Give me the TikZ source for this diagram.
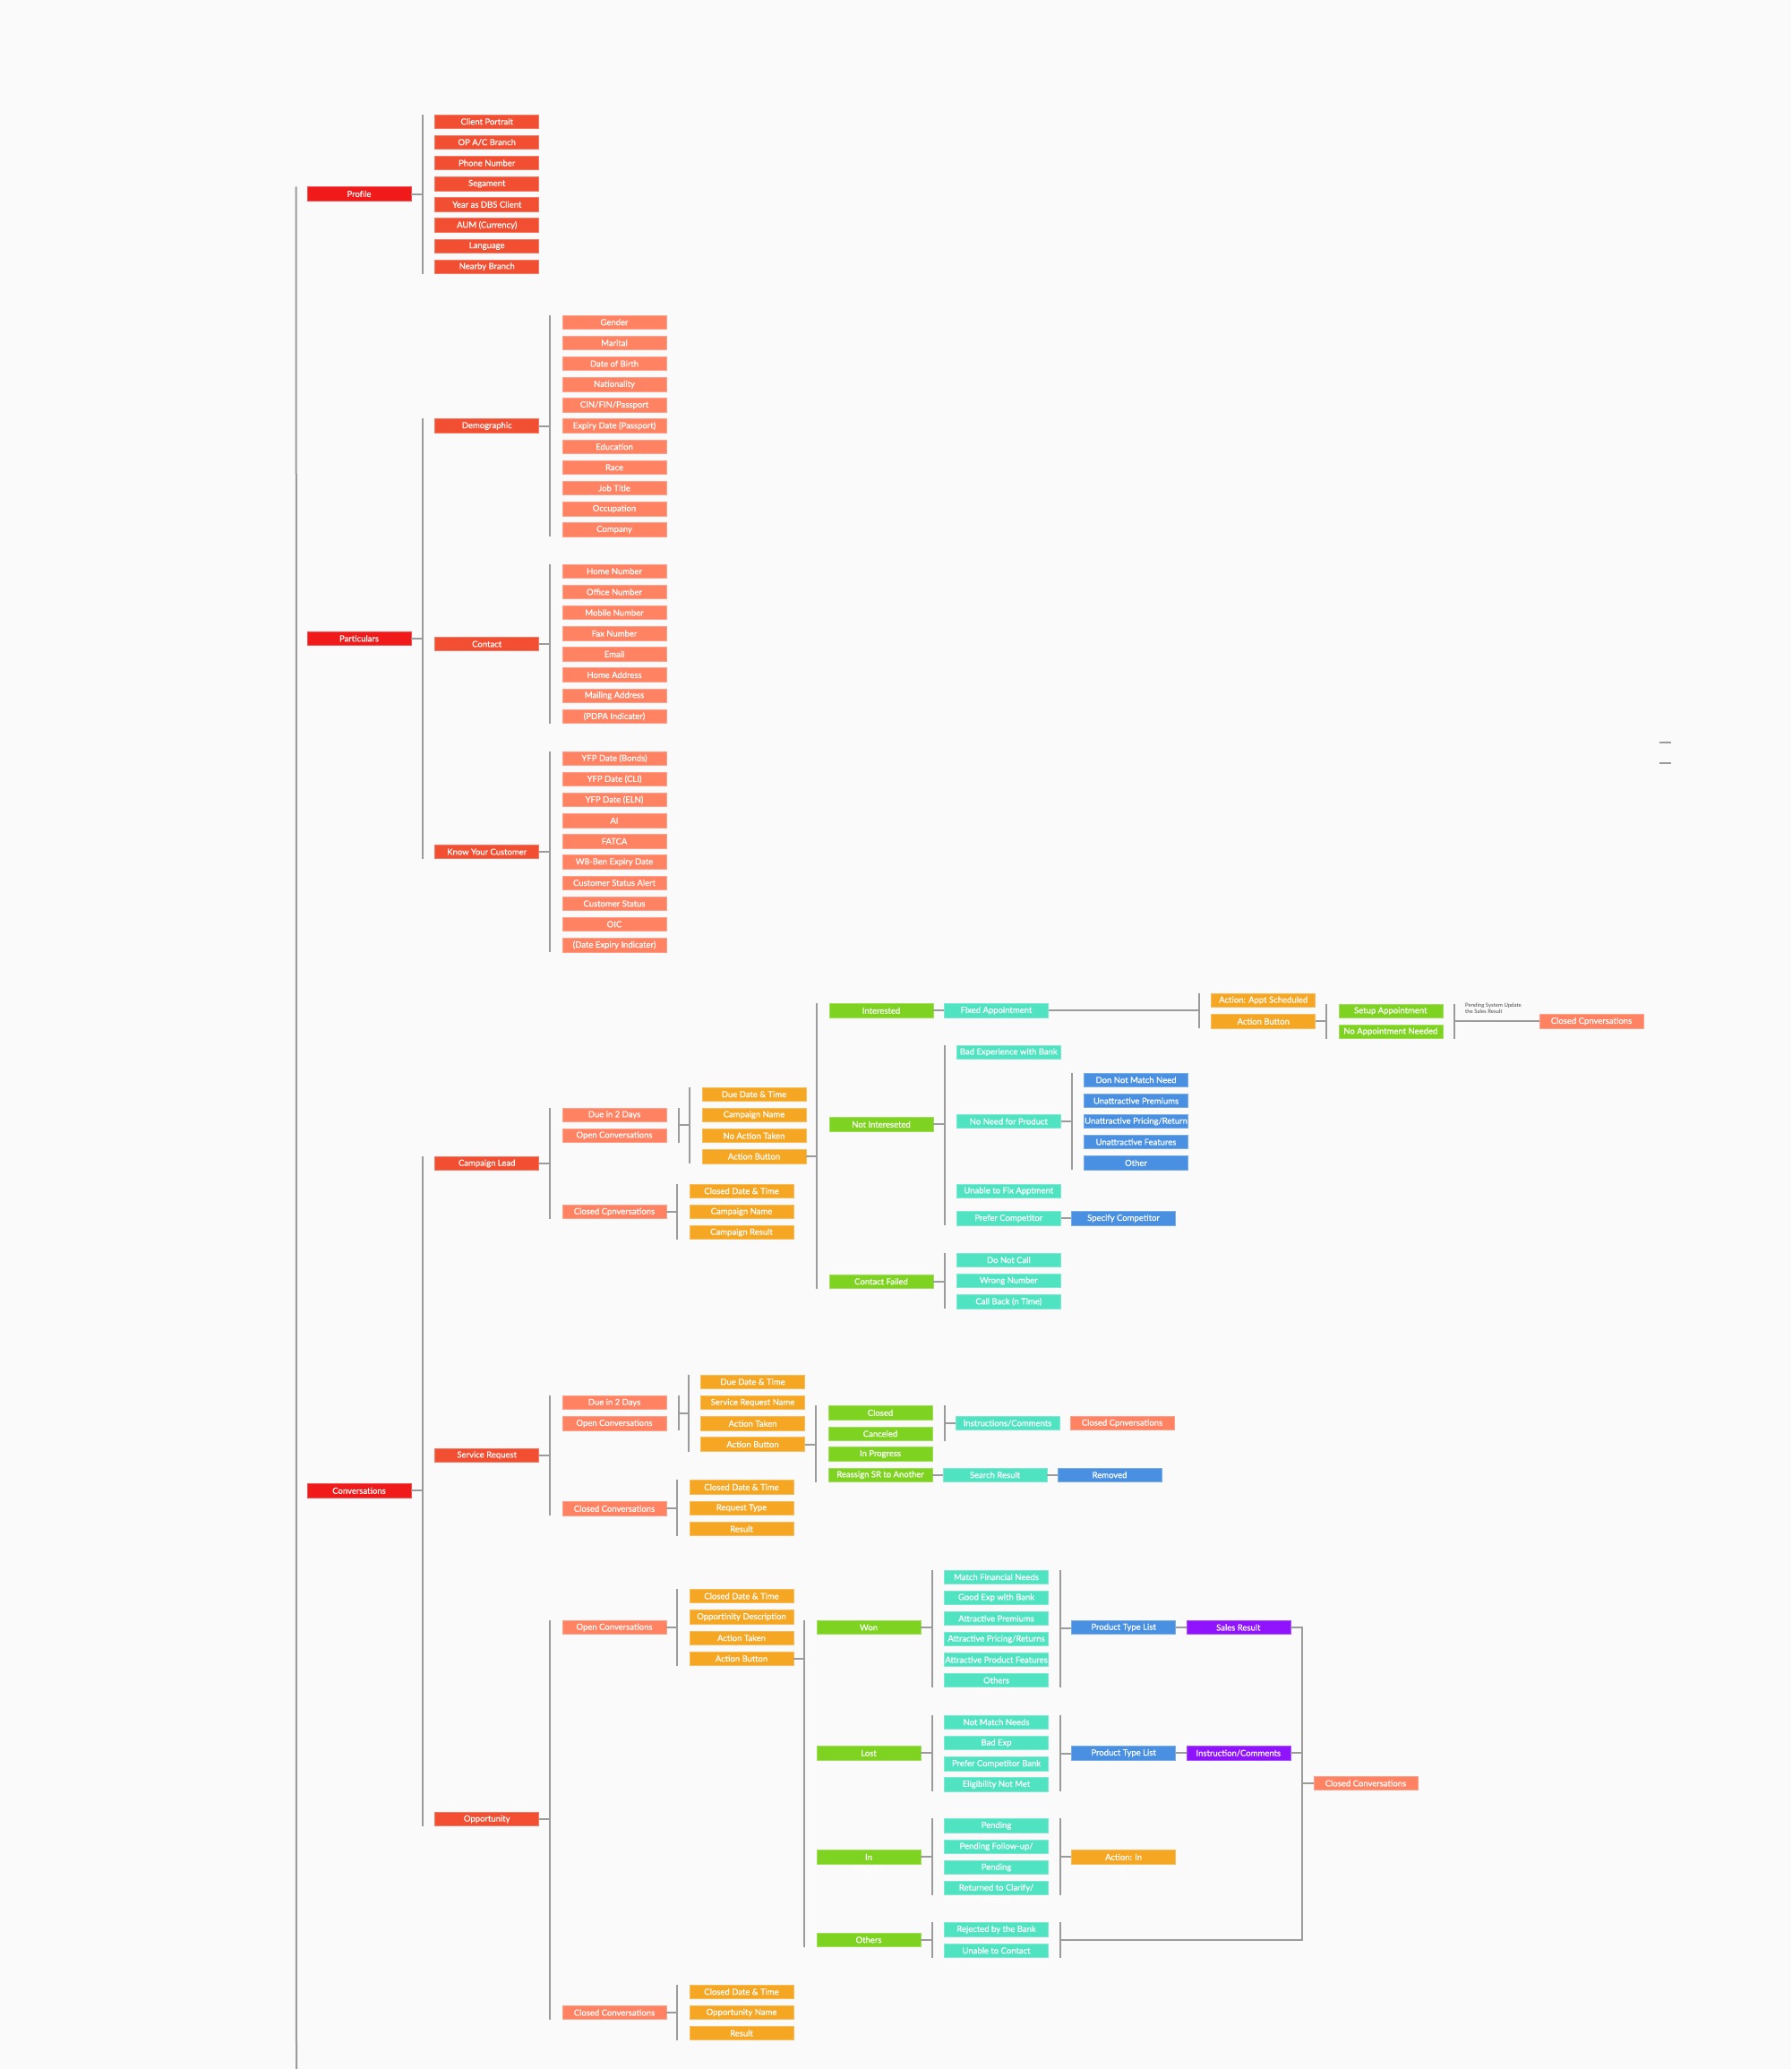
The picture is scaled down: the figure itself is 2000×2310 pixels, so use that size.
\documentclass[tikz,border=0pt]{standalone}
\usepackage{fontspec}
\setmainfont{Lato}
\newfontfamily\boxfont{Lato}[FakeBold=0.5]
\usetikzlibrary{calc}
\definecolor{bgc}{HTML}{FAFAFA}
\definecolor{lc}{HTML}{9B9B9B}
\definecolor{cA}{HTML}{F01A1A}
\definecolor{cB}{HTML}{F24E31}
\definecolor{cC}{HTML}{FF8263}
\definecolor{cO}{HTML}{F5A623}
\definecolor{cG}{HTML}{7ED321}
\definecolor{cT}{HTML}{50E3C2}
\definecolor{cBl}{HTML}{4A90E2}
\definecolor{cP}{HTML}{9013FE}
\definecolor{tx}{HTML}{4A4A4A}
\tikzset{
 bx/.style={rectangle, minimum width=116pt, minimum height=15.5pt, inner sep=0pt, text=white, font=\boxfont\fontsize{9.5}{11}\selectfont, fill=#1, draw=#1!75!white, line width=0.6pt},
 ln/.style={draw=lc, line width=2pt},
 hid/.style={text=white, font=\boxfont\fontsize{9.5}{11}\selectfont, inner sep=0pt},
}
% left bracket: #1 parent coordinate, #2 first child, #3 last child, #4 name
\newcommand\mybrk[4]{%
 \coordinate (#4t) at ([xshift=-13.3pt]#2.north west);
 \coordinate (#4b) at ([xshift=-13.3pt]#3.south west);
 \draw[ln] (#4t) -- (#4b);
 \draw[ln] (#1) -- (#1 -| #4t);}
% right group bracket: #1 first, #2 last, #3 name
\newcommand\mygrp[3]{%
 \coordinate (#3t) at ([xshift=13.3pt]#1.north east);
 \coordinate (#3b) at ([xshift=13.3pt]#2.south east);
 \coordinate (#3m) at ($(#3t)!0.5!(#3b)$);
 \draw[ln] (#3t) -- (#3b);}
\begin{document}
\begin{tikzpicture}[x=1pt,y=-1pt]
\fill[bgc] (0,0) rectangle (2000,2310);
\useasboundingbox (0,0) rectangle (2000,2310);

% ---------- level A
\node[bx=cA] (profile) at (401,216.5) {Profile};
\node[bx=cA] (particulars) at (401,712.8) {Particulars};
\node[bx=cA] (conversations) at (401,1664.3) {Conversations};
\coordinate (rootend) at (331,2310);
\draw[ln] ([xshift=-12pt]profile.north west) -- (rootend);

% ---------- Profile
\node[bx=cB] (p1) at (543.7,135.7) {Client Portrait};
\node[bx=cB] (p2) at (543.7,158.85) {OP A/C Branch};
\node[bx=cB] (p3) at (543.7,182) {Phone Number};
\node[bx=cB] (p4) at (543.7,205.15) {Segament};
\node[bx=cB] (p5) at (543.7,228.3) {Year as DBS Client};
\node[bx=cB] (p6) at (543.7,251.45) {AUM (Currency)};
\node[bx=cB] (p7) at (543.7,274.6) {Language};
\node[bx=cB] (p8) at (543.7,297.75) {Nearby Branch};
\mybrk{profile.east}{p1}{p8}{bp}

% ---------- Particulars
\node[bx=cB] (demo) at (543.7,475.5) {Demographic};
\node[bx=cB] (contact) at (543.7,719) {Contact};
\node[bx=cB] (kyc) at (543.7,951) {Know Your Customer};
\mybrk{particulars.east}{demo}{kyc}{bpa}

\node[bx=cC] (d1) at (686,359.7) {Gender};
\node[bx=cC] (d2) at (686,382.86) {Marital};
\node[bx=cC] (d3) at (686,406.0) {Date of Birth};
\node[bx=cC] (d4) at (686,429.2) {Nationality};
\node[bx=cC] (d5) at (686,452.3) {CIN/FIN/Passport};
\node[bx=cC] (d6) at (686,475.5) {Expiry Date (Passport)};
\node[bx=cC] (d7) at (686,498.7) {Education};
\node[bx=cC] (d8) at (686,521.8) {Race};
\node[bx=cC] (d9) at (686,545.0) {Job Title};
\node[bx=cC] (d10) at (686,568.1) {Occupation};
\node[bx=cC] (d11) at (686,591.3) {Company};
\mybrk{demo.east}{d1}{d11}{bdm}

\node[bx=cC] (c1) at (686,637.7) {Home Number};
\node[bx=cC] (c2) at (686,660.9) {Office Number};
\node[bx=cC] (c3) at (686,684.0) {Mobile Number};
\node[bx=cC] (c4) at (686,707.2) {Fax Number};
\node[bx=cC] (c5) at (686,730.3) {Email};
\node[bx=cC] (c6) at (686,753.5) {Home Address};
\node[bx=cC] (c7) at (686,776.6) {Mailing Address};
\node[bx=cC] (c8) at (686,799.9) {(PDPA Indicater)};
\mybrk{contact.east}{c1}{c8}{bct}

\node[bx=cC] (k1) at (686,846.7) {YFP Date (Bonds)};
\node[bx=cC] (k2) at (686,869.85) {YFP Date (CLI)};
\node[bx=cC] (k3) at (686,893.0) {YFP Date (ELN)};
\node[bx=cC] (k4) at (686,916.2) {AI};
\node[bx=cC] (k5) at (686,939.3) {FATCA};
\node[bx=cC] (k6) at (686,962.5) {W8-Ben Expiry Date};
\node[bx=cC] (k7) at (686,985.6) {Customer Status Alert};
\node[bx=cC] (k8) at (686,1008.8) {Customer Status};
\node[bx=cC] (k9) at (686,1031.9) {OIC};
\node[bx=cC] (k10) at (686,1055.1) {(Date Expiry Indicater)};
\mybrk{kyc.east}{k1}{k10}{bky}

% ---------- Conversations
\node[bx=cB] (clead) at (543.7,1299) {Campaign Lead};
\node[bx=cB] (sreq) at (543.7,1624.7) {Service Request};
\node[bx=cB] (opp) at (543.7,2031) {Opportunity};
\mybrk{conversations.east}{clead}{opp}{bcv}

% ---------- Campaign Lead
\node[bx=cC] (cldue) at (686,1244.7) {Due in 2 Days};
\node[bx=cC] (clopen) at (686,1267.7) {Open Conversations};
\node[bx=cC] (clclosed) at (686,1353) {Closed Cpnversations};
\mybrk{clead.east}{cldue}{clclosed}{bcl}
\mygrp{cldue}{clopen}{gcl}

\node[bx=cO] (cld1) at (842,1221.7) {Due Date \& Time};
\node[bx=cO] (cld2) at (842,1244.8) {Campaign Name};
\node[bx=cO] (cld3) at (842,1268) {No Action Taken};
\node[bx=cO] (cld4) at (842,1291.1) {Action Button};
\mybrk{gclm}{cld1}{cld4}{bcld}

\node[bx=cO] (clc1) at (828,1329.7) {Closed Date \& Time};
\node[bx=cO] (clc2) at (828,1353) {Campaign Name};
\node[bx=cO] (clc3) at (828,1376) {Campaign Result};
\mybrk{clclosed.east}{clc1}{clc3}{bclc}

\node[bx=cG] (int) at (984,1128.3) {Interested};
\node[bx=cG] (nint) at (984,1255.3) {Not Intereseted};
\node[bx=cG] (cf) at (984,1430.7) {Contact Failed};
\mybrk{cld4.east}{int}{cf}{bbig}

\node[bx=cT] (fixed) at (1112.5,1128.3) {Fixed Appointment};
\draw[ln] (int.east) -- (fixed.west);

\node[bx=cO] (appt) at (1410.7,1116.8) {Action: Appt Scheduled};
\node[bx=cO] (abtn) at (1410.7,1140.3) {Action Button};
\mybrk{fixed.east}{appt}{abtn}{bfx}

\node[bx=cG] (setup) at (1552.8,1128.7) {Setup Appointment};
\node[bx=cG] (noappt) at (1552.8,1151.7) {No Appointment Needed};
\mybrk{abtn.east}{setup}{noappt}{bab}
\mygrp{setup}{noappt}{gsu}

\node[bx=cC] (ccl) at (1777,1140.3) {Closed Cpnversations};
\draw[ln] (gsum) -- (gsum -| ccl.west);
\node[font=\fontsize{6}{7.5}\selectfont, text=tx, align=left, anchor=north west, inner sep=0pt] (psu) at (1636,1119.5) {Pending System Update\\the Sales Result};

\node[bx=cT] (bad) at (1126.3,1174.7) {Bad Experience with Bank};
\node[bx=cT] (noneed) at (1126.3,1252) {No Need for Product};
\node[bx=cT] (unable) at (1126.3,1329.7) {Unable to Fix Apptment};
\node[bx=cT] (prefer) at (1126.3,1360.3) {Prefer Competitor};
\mybrk{nint.east}{bad}{prefer}{bni}

\node[bx=cBl] (dnm) at (1268.5,1205.7) {Don Not Match Need};
\node[bx=cBl] (uprem) at (1268.5,1229) {Unattractive Premiums};
\node[bx=cBl] (upr) at (1268.5,1252) {Unattractive Pricing/Return};
\node[bx=cBl] (ufeat) at (1268.5,1275) {Unattractive Features};
\node[bx=cBl] (oth) at (1268.5,1298.3) {Other};
\mybrk{noneed.east}{dnm}{oth}{bnn}

\node[bx=cBl] (spec) at (1254.5,1360.3) {Specify Competitor};
\draw[ln] (prefer.east) -- (spec.west);

\node[bx=cT] (dnc) at (1126.3,1406.7) {Do Not Call};
\node[bx=cT] (wrong) at (1126.3,1430) {Wrong Number};
\node[bx=cT] (cb) at (1126.3,1453.3) {Call Back (n Time)};
\mybrk{cf.east}{dnc}{cb}{bcf}

% ---------- Service Request
\node[bx=cC] (srdue) at (686,1566) {Due in 2 Days};
\node[bx=cC] (sropen) at (686,1589.3) {Open Conversations};
\node[bx=cC] (srclosed) at (686,1684.3) {Closed Conversations};
\mybrk{sreq.east}{srdue}{srclosed}{bsr}
\mygrp{srdue}{sropen}{gsr}

\node[bx=cO] (srd1) at (840.5,1542.7) {Due Date \& Time};
\node[bx=cO] (srd2) at (840.5,1566) {Service Request Name};
\node[bx=cO] (srd3) at (840.5,1589.3) {Action Taken};
\node[bx=cO] (srd4) at (840.5,1612.5) {Action Button};
\mybrk{gsrm}{srd1}{srd4}{bsrd}

\node[bx=cO] (src1) at (828,1660.3) {Closed Date \& Time};
\node[bx=cO] (src2) at (828,1683.7) {Request Type};
\node[bx=cO] (src3) at (828,1707) {Result};
\mybrk{srclosed.east}{src1}{src3}{bsrc}

\node[bx=cG] (sclosed) at (983,1577.3) {Closed};
\node[bx=cG] (scanc) at (983,1600.7) {Canceled};
\node[bx=cG] (sinp) at (983,1623.3) {In Progress};
\node[bx=cG] (sreas) at (983,1646.7) {Reassign SR to Another};
\mybrk{srd4.east}{sclosed}{sreas}{bsra}
\mygrp{sclosed}{scanc}{gsc}

\node[bx=cT] (sinstr) at (1125,1589) {Instructions/Comments};
\draw[ln] (gscm) -- (gscm -| sinstr.west);
\node[bx=cC] (sccl) at (1253,1589) {Closed Cpnversations};
\node[bx=cT] (ssearch) at (1111,1646.7) {Search Result};
\node[bx=cBl] (sremoved) at (1239,1646.7) {Removed};
\draw[ln] (sreas.east) -- (ssearch.west);
\draw[ln] (ssearch.east) -- (sremoved.west);

% ---------- Opportunity
\node[bx=cC] (opopen) at (686,1817) {Open Conversations};
\node[bx=cC] (opclosed) at (686,2247) {Closed Conversations};
\mybrk{opp.east}{opopen}{opclosed}{bop}

\node[bx=cO] (oo1) at (828,1782) {Closed Date \& Time};
\node[bx=cO] (oo2) at (828,1805.3) {Opportinity Description};
\node[bx=cO] (oo3) at (828,1828.7) {Action Taken};
\node[bx=cO] (oo4) at (828,1851.7) {Action Button};
\mybrk{opopen.east}{oo1}{oo4}{boo}

\node[bx=cO] (oc1) at (828,2223.7) {Closed Date \& Time};
\node[bx=cO] (oc2) at (828,2247) {Opportunity Name};
\node[bx=cO] (oc3) at (828,2270) {Result};
\mybrk{opclosed.east}{oc1}{oc3}{boc}

\node[bx=cG] (won) at (970,1817) {Won};
\node[bx=cG] (lost) at (970,1957.3) {Lost};
\node[bx=cG] (inpr) at (970,2073.3) {In};
\node[bx=cG] (others) at (970,2165.7) {Others};
\mybrk{oo4.east}{won}{others}{boa}

\node[bx=cT] (w1) at (1112.5,1760.7) {Match Financial Needs};
\node[bx=cT] (w2) at (1112.5,1783.7) {Good Exp with Bank};
\node[bx=cT] (w3) at (1112.5,1807) {Attractive Premiums};
\node[bx=cT] (w4) at (1112.5,1830) {Attractive Pricing/Returns};
\node[bx=cT] (w5) at (1112.5,1853) {Attractive Product Features};
\node[bx=cT] (w6) at (1112.5,1876) {Others};
\mybrk{won.east}{w1}{w6}{bwon}
\mygrp{w1}{w6}{gwon}
\node[bx=cBl] (ptl1) at (1254.6,1817) {Product Type List};
\node[bx=cP] (sales) at (1382.8,1817) {Sales Result};
\draw[ln] (gwonm) -- (gwonm -| ptl1.west);
\draw[ln] (ptl1.east) -- (sales.west);

\node[bx=cT] (l1) at (1112.5,1922.7) {Not Match Needs};
\node[bx=cT] (l2) at (1112.5,1946) {Bad Exp};
\node[bx=cT] (l3) at (1112.5,1969.3) {Prefer Competitor Bank};
\node[bx=cT] (l4) at (1112.5,1992.3) {Eligibility Not Met};
\mybrk{lost.east}{l1}{l4}{blost}
\mygrp{l1}{l4}{glost}
\node[bx=cBl] (ptl2) at (1254.6,1957.3) {Product Type List};
\node[bx=cP] (instrc) at (1382.8,1957.3) {Instruction/Comments};
\draw[ln] (glostm) -- (glostm -| ptl2.west);
\draw[ln] (ptl2.east) -- (instrc.west);

\node[bx=cT] (i1) at (1112.5,2038.3) {Pending};
\node[bx=cT] (i2) at (1112.5,2061.7) {Pending Follow-up/};
\node[bx=cT] (i3) at (1112.5,2085) {Pending};
\node[bx=cT] (i4) at (1112.5,2108) {Returned to Clarify/};
\mybrk{inpr.east}{i1}{i4}{binp}
\mygrp{i1}{i4}{ginp}
\node[bx=cO] (actin) at (1254.6,2073.3) {Action: In};
\draw[ln] (ginpm) -- (ginpm -| actin.west);
\node[hid] (inprx) at (970,2086.6) {Progress};
\node[hid] (actinx) at (1254.6,2086.6) {Progress};
\node[hid] (i4x) at (1112.5,2121.3) {Amend};

\node[bx=cT] (o1) at (1112.5,2154.3) {Rejected by the Bank};
\node[bx=cT] (o2) at (1112.5,2177.7) {Unable to Contact};
\mybrk{others.east}{o1}{o2}{both}
\mygrp{o1}{o2}{goth}

\coordinate (fbx) at (1454,1991);
\node[bx=cC] (fclosed) at (1525,1991) {Closed Conversations};
\draw[ln] (sales.east) -- (sales.east -| fbx) -- (gothm -| fbx) -- (gothm);
\draw[ln] (instrc.east) -- (instrc.east -| fbx);
\draw[ln] (fbx) -- (fclosed.west);

% ---------- stray marks at right
\coordinate (m1a) at (1852.7,828.7);
\coordinate (m1b) at (1865.7,828.7);
\coordinate (m2a) at (1852.7,851.7);
\coordinate (m2b) at (1865.7,851.7);
\draw[ln] (m1a) -- (m1b);
\draw[ln] (m2a) -- (m2b);
\end{tikzpicture}
\end{document}
